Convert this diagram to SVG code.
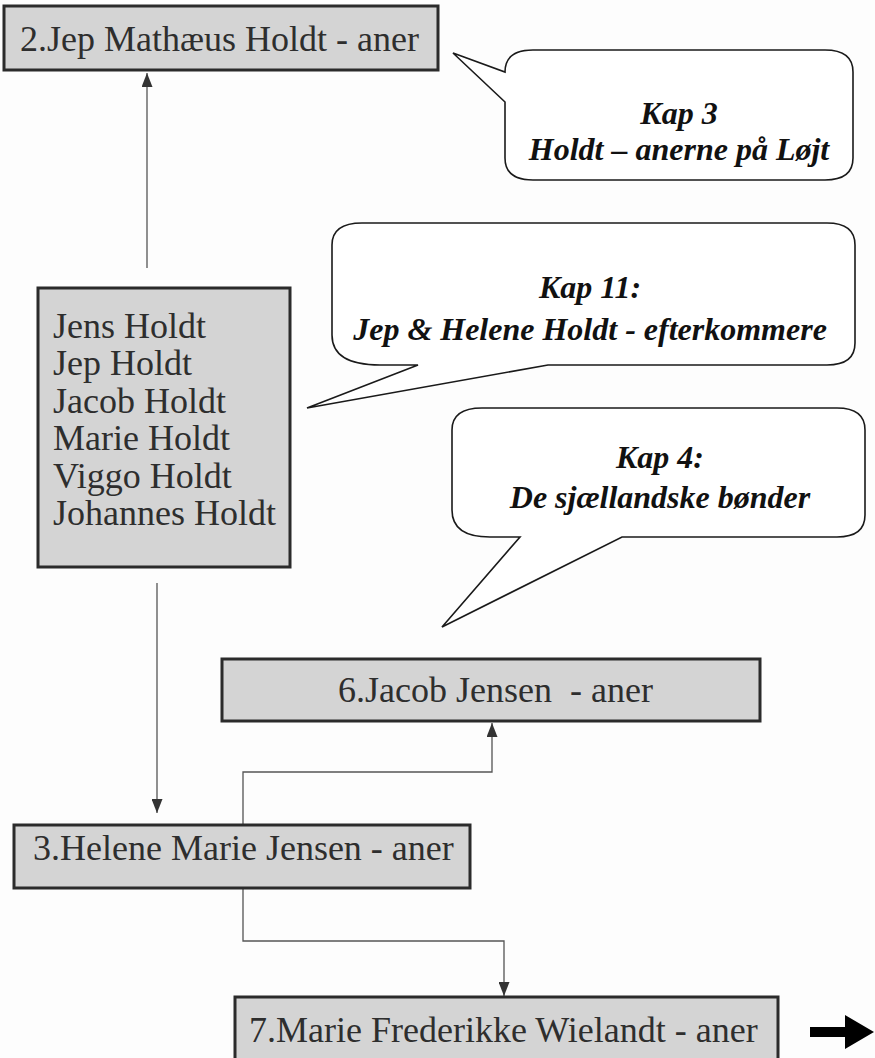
<svg xmlns="http://www.w3.org/2000/svg" width="875" height="1058" viewBox="0 0 875 1058">
<defs>
<style>
.box{fill:#d4d4d4;stroke:#2b2b2b;stroke-width:3}
.bt{font-family:"Liberation Serif","Times New Roman",serif;font-size:36px;fill:#2e2e2e;white-space:pre}
.bub{fill:#ffffff;stroke:#1a1a1a;stroke-width:1.6;stroke-linejoin:miter}
.ct{font-family:"Liberation Serif","Times New Roman",serif;font-size:32px;font-weight:bold;font-style:italic;fill:#111;text-anchor:middle}
.con{fill:none;stroke:#555;stroke-width:1.3}
</style>
<marker id="ah" viewBox="0 0 14 11" refX="14" refY="5.5" markerWidth="14" markerHeight="11" markerUnits="userSpaceOnUse" orient="auto" preserveAspectRatio="none">
<path d="M0,0 L14,5.5 L0,11 Z" fill="#333"/>
</marker>
</defs>
<rect width="875" height="1058" fill="#fdfdfd"/>

<g id="connectors">
<polyline class="con" points="147,268 147,73" marker-end="url(#ah)"/>
<polyline class="con" points="157,583 157,813" marker-end="url(#ah)"/>
<polyline class="con" points="243,825 243,772 492,772 492,723" marker-end="url(#ah)"/>
<polyline class="con" points="243,888 243,941 504,941 504,996" marker-end="url(#ah)"/>
<path d="M810,1027 H845 V1015 L874,1032 L845,1049 V1037 H810 Z" fill="#000"/>
</g>

<g id="node-jep">
<rect class="box" x="4" y="6" width="434" height="64"/>
<text class="bt" x="20" y="51">2.Jep Mathæus Holdt - aner</text>
</g>

<g id="callout-kap3">
<path class="bub" d="M533,50 H825 Q853,50 853,72 V158 Q853,180 825,180 H533 Q505,180 505,158 V102 L453,53 L505,72 Q505,50 533,50 Z"/>
<text class="ct" x="679" y="124">Kap 3</text>
<text class="ct" x="679" y="160">Holdt – anerne på Løjt</text>
</g>

<g id="callout-kap11">
<path class="bub" d="M362,223 H827 Q855,223 855,245 V343 Q855,365 827,365 H548 L307,408 L418,365 H380 Q332,365 332,335 V245 Q332,223 362,223 Z"/>
<text class="ct" x="590" y="298">Kap 11:</text>
<text class="ct" x="590" y="340">Jep &amp; Helene Holdt - efterkommere</text>
</g>

<g id="node-children">
<rect class="box" x="38" y="288" width="252" height="279"/>
<text class="bt" x="53" y="338">Jens Holdt</text>
<text class="bt" x="53" y="375">Jep Holdt</text>
<text class="bt" x="53" y="413">Jacob Holdt</text>
<text class="bt" x="53" y="450">Marie Holdt</text>
<text class="bt" x="53" y="488">Viggo Holdt</text>
<text class="bt" x="53" y="525">Johannes Holdt</text>
</g>

<g id="callout-kap4">
<path class="bub" d="M482,408 H837 Q865,408 865,430 V515 Q865,537 837,537 H622 L442,627 L520,537 H490 Q452,537 452,510 V430 Q452,408 482,408 Z"/>
<text class="ct" x="660" y="468">Kap 4:</text>
<text class="ct" x="660" y="508">De sjællandske bønder</text>
</g>

<g id="node-jacob">
<rect class="box" x="222" y="659" width="538" height="62"/>
<text class="bt" x="338" y="702">6.Jacob Jensen  - aner</text>
</g>

<g id="node-helene">
<rect class="box" x="14" y="825" width="456" height="63"/>
<text class="bt" x="33" y="860">3.Helene Marie Jensen - aner</text>
</g>

<g id="node-marie">
<rect class="box" x="235" y="997" width="543" height="75"/>
<text class="bt" x="249" y="1042">7.Marie Frederikke Wielandt - aner</text>
</g>
</svg>
